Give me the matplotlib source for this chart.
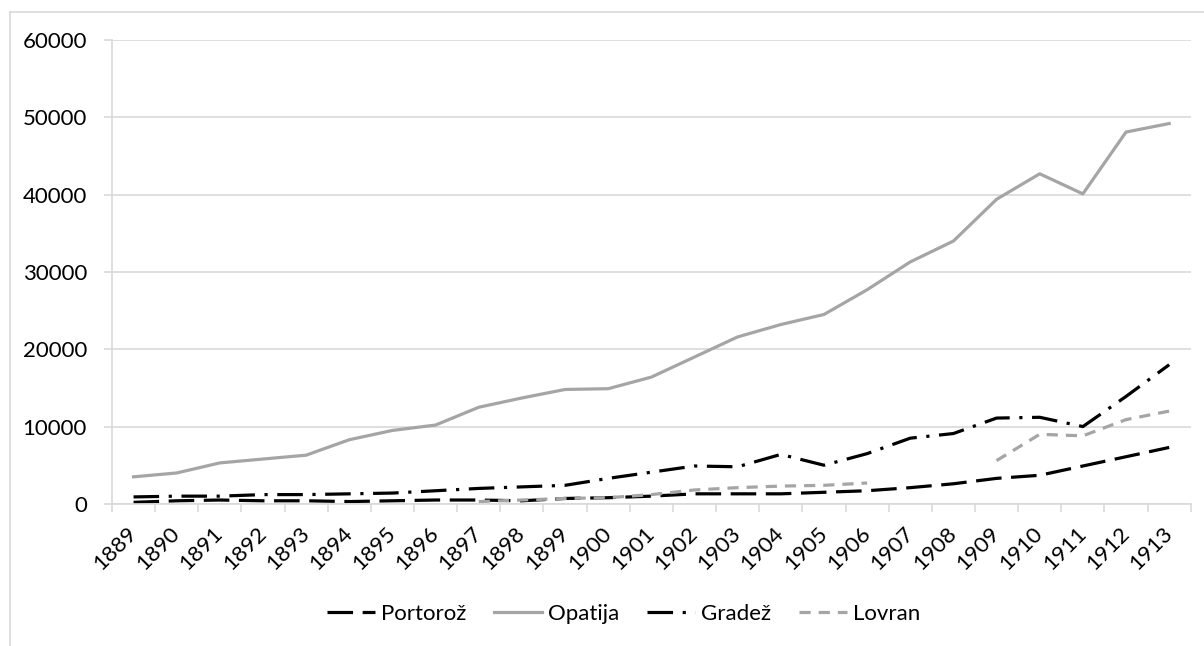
import matplotlib.pyplot as plt
import numpy as np
from matplotlib.lines import Line2D

years = list(range(1889, 1914))

portoroz = [200, 400, 500, 400, 400, 300, 400, 500, 500, 400, 700, 800, 1000,
            1300, 1300, 1300, 1500, 1700, 2100, 2600, 3300, 3700, 4900, 6100, 7300]
opatija = [3500, 4000, 5300, 5800, 6300, 8300, 9500, 10200, 12500, 13700, 14800,
           14900, 16400, 19000, 21600, 23200, 24500, 27700, 31300, 34000, 39400,
           42700, 40100, 48100, 49200]
gradez = [900, 1000, 1000, 1200, 1200, 1300, 1400, 1700, 2000, 2200, 2400, 3300,
          4100, 4900, 4800, 6400, 5000, 6500, 8500, 9100, 11100, 11200, 10000,
          13900, 18000]
lovran = [np.nan] * 8 + [300, 500, 700, 800, 1200, 1800, 2100, 2300, 2400, 2700,
                         np.nan, np.nan, 5600, 9000, 8800, 10900, 12000]

plt.rcParams['font.family'] = ['Lato', 'DejaVu Sans']

fig = plt.figure(figsize=(12.04, 6.46), dpi=100)
ax = fig.add_axes([0.093, 0.22, 0.896, 0.718])

x = np.arange(len(years))
grid_c = '#d9d9d9'
lw = 2.3

ax.plot(x, portoroz, color='black', lw=lw, dashes=(8, 3), label='Portorož')
ax.plot(x, opatija, color='#a5a5a5', lw=lw, label='Opatija')
ax.plot(x, gradez, color='black', lw=lw, dashes=(8, 3, 1, 3), label='Gradež')
ax.plot(x, lovran, color='#a5a5a5', lw=lw, dashes=(3.5, 2.5), label='Lovran')

ax.set_xlim(-0.5, len(years) - 0.5)
ax.set_ylim(0, 60000)
ax.set_yticks(range(0, 60001, 10000))
ax.yaxis.grid(True, color=grid_c, lw=1.2)
ax.set_axisbelow(True)

ax.set_xticks(x)
ax.set_xticklabels([str(y) for y in years], rotation=45, ha='right', va='center',
                   rotation_mode='anchor', fontsize=16)
ax.set_xticks(np.arange(-0.5, len(years)), minor=True)
ax.tick_params(axis='x', which='major', length=0, pad=19)
ax.tick_params(axis='x', which='minor', length=6, color=grid_c, width=1.2)
ax.tick_params(axis='y', length=6, color=grid_c, width=1.2, pad=12, labelsize=16)

for s in ['top', 'right']:
    ax.spines[s].set_visible(False)
for s in ['left', 'bottom']:
    ax.spines[s].set_color(grid_c)
    ax.spines[s].set_linewidth(1.2)

# outer chart border (left and top only visible)
fig.add_artist(Line2D([10 / 1204, 10 / 1204], [0, 1 - 12 / 646],
                      transform=fig.transFigure, color=grid_c, lw=1.2))
fig.add_artist(Line2D([10 / 1204, 1], [1 - 12 / 646, 1 - 12 / 646],
                      transform=fig.transFigure, color=grid_c, lw=1.2))

fig.legend(loc='center', bbox_to_anchor=(0.518, 0.05), ncol=4, frameon=False,
           fontsize=16, handlelength=2.15, handletextpad=0.27, columnspacing=1.25)

fig.savefig('out.png', dpi=100)
